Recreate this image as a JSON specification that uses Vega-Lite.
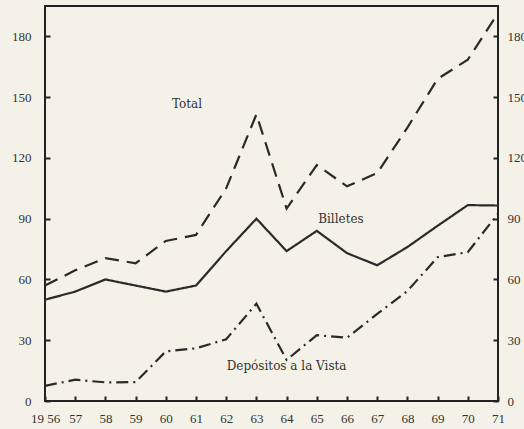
{
  "$schema": "https://vega.github.io/schema/vega-lite/v6.json",
  "width": 453,
  "height": 395,
  "autosize": {"type": "none"},
  "padding": {"left": 45, "top": 6, "right": 26, "bottom": 28},
  "background": "#f4f2e8",
  "config": {
    "view": {"stroke": "#222", "strokeWidth": 2},
    "axis": {"labelFont": "Liberation Serif", "labelFontSize": 13, "labelColor": "#333", "tickColor": "#222", "tickWidth": 2, "tickSize": 5, "offset": -5, "domain": false, "grid": false, "title": null, "labelOverlap": false}
  },
  "datasets": {
    "series": [
      {"year": 1956, "serie": "Billetes", "valor": 50},
      {"year": 1957, "serie": "Billetes", "valor": 54},
      {"year": 1958, "serie": "Billetes", "valor": 60},
      {"year": 1959, "serie": "Billetes", "valor": 57},
      {"year": 1960, "serie": "Billetes", "valor": 54},
      {"year": 1961, "serie": "Billetes", "valor": 57},
      {"year": 1962, "serie": "Billetes", "valor": 74},
      {"year": 1963, "serie": "Billetes", "valor": 90},
      {"year": 1964, "serie": "Billetes", "valor": 74},
      {"year": 1965, "serie": "Billetes", "valor": 84},
      {"year": 1966, "serie": "Billetes", "valor": 73},
      {"year": 1967, "serie": "Billetes", "valor": 67},
      {"year": 1968, "serie": "Billetes", "valor": 76},
      {"year": 1969, "serie": "Billetes", "valor": 86.5},
      {"year": 1970, "serie": "Billetes", "valor": 96.7},
      {"year": 1971, "serie": "Billetes", "valor": 96.5},
      {"year": 1956, "serie": "Total", "valor": 57},
      {"year": 1957, "serie": "Total", "valor": 64.5},
      {"year": 1958, "serie": "Total", "valor": 70.5},
      {"year": 1959, "serie": "Total", "valor": 68},
      {"year": 1960, "serie": "Total", "valor": 79},
      {"year": 1961, "serie": "Total", "valor": 82},
      {"year": 1962, "serie": "Total", "valor": 105},
      {"year": 1963, "serie": "Total", "valor": 141.5},
      {"year": 1964, "serie": "Total", "valor": 95},
      {"year": 1965, "serie": "Total", "valor": 116.5},
      {"year": 1966, "serie": "Total", "valor": 106},
      {"year": 1967, "serie": "Total", "valor": 112.5},
      {"year": 1968, "serie": "Total", "valor": 135},
      {"year": 1969, "serie": "Total", "valor": 159},
      {"year": 1970, "serie": "Total", "valor": 168.5},
      {"year": 1971, "serie": "Total", "valor": 191.5},
      {"year": 1956, "serie": "Depósitos a la Vista", "valor": 7.5},
      {"year": 1957, "serie": "Depósitos a la Vista", "valor": 10.5},
      {"year": 1958, "serie": "Depósitos a la Vista", "valor": 9.2},
      {"year": 1959, "serie": "Depósitos a la Vista", "valor": 9.3},
      {"year": 1960, "serie": "Depósitos a la Vista", "valor": 24.5},
      {"year": 1961, "serie": "Depósitos a la Vista", "valor": 26},
      {"year": 1962, "serie": "Depósitos a la Vista", "valor": 30.5},
      {"year": 1963, "serie": "Depósitos a la Vista", "valor": 48},
      {"year": 1964, "serie": "Depósitos a la Vista", "valor": 20.3},
      {"year": 1965, "serie": "Depósitos a la Vista", "valor": 32.5},
      {"year": 1966, "serie": "Depósitos a la Vista", "valor": 31.2},
      {"year": 1967, "serie": "Depósitos a la Vista", "valor": 43},
      {"year": 1968, "serie": "Depósitos a la Vista", "valor": 54.3},
      {"year": 1969, "serie": "Depósitos a la Vista", "valor": 71},
      {"year": 1970, "serie": "Depósitos a la Vista", "valor": 73.5},
      {"year": 1971, "serie": "Depósitos a la Vista", "valor": 92.5}
    ],
    "labels": [
      {"year": 1960.7, "valor": 146.5, "texto": "Total"},
      {"year": 1965.8, "valor": 90, "texto": "Billetes"},
      {"year": 1964.0, "valor": 17.3, "texto": "Depósitos a la Vista"}
    ]
  },
  "layer": [
    {
      "data": {"name": "series"},
      "mark": {"type": "line", "strokeWidth": 2.2, "color": "#2a2a2a"},
      "encoding": {
        "x": {"field": "year", "type": "quantitative", "scale": {"domain": [1956, 1971], "nice": false, "zero": false},
          "axis": {"values": [1956,1957,1958,1959,1960,1961,1962,1963,1964,1965,1966,1967,1968,1969,1970,1971], "labelOverlap": false, "labelPadding": 11, "labelExpr": "datum.value == 1956 ? '19 56' : slice(toString(datum.value), 2)", "labelFlush": false}},
        "y": {"field": "valor", "type": "quantitative", "scale": {"domain": [0, 195], "nice": false},
          "axis": {"orient": "left", "values": [0,30,60,90,120,150,180], "labelPadding": 14}},
        "strokeDash": {"field": "serie", "type": "nominal", "legend": null,
          "scale": {"domain": ["Billetes", "Total", "Depósitos a la Vista"], "range": [[1, 0], [14, 8], [12, 5, 2, 5]]}}
      }
    },
    {
      "data": {"name": "labels"},
      "mark": {"type": "text", "font": "DejaVu Serif", "fontSize": 12, "color": "#333", "align": "center", "baseline": "middle"},
      "encoding": {
        "x": {"field": "year", "type": "quantitative", "axis": null},
        "y": {"field": "valor", "type": "quantitative",
          "axis": {"orient": "right", "values": [0,30,60,90,120,150,180], "labelPadding": 9}},
        "text": {"field": "texto"}
      }
    }
  ],
  "resolve": {"axis": {"y": "independent", "x": "independent"}}
}
